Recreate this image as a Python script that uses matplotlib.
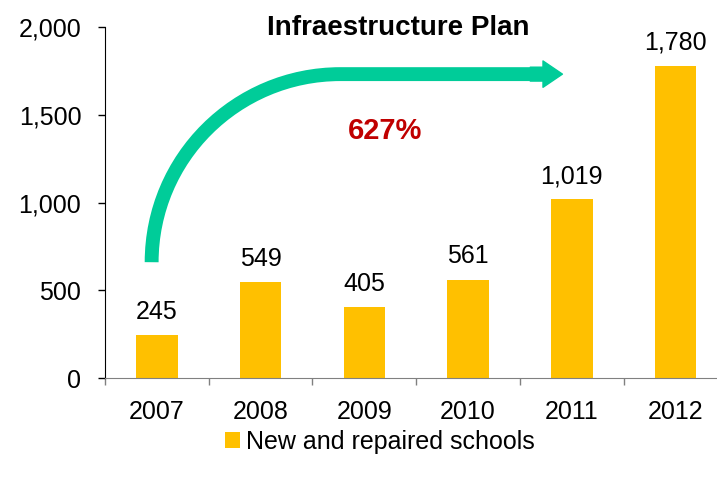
import numpy as np
import matplotlib
matplotlib.use("Agg")
import matplotlib.pyplot as plt
from matplotlib.path import Path
from matplotlib.patches import PathPatch
from matplotlib.ticker import FuncFormatter

# ─── data ─────────────────────────────────────────────
years   = ["2007", "2008", "2009", "2010", "2011", "2012"]
schools = [245, 549, 405, 561, 1019, 1780]
growth_label = "627%"
# ─────────────────────────────────────────────────────

BAR_COLOR   = "#FFC000"
ARROW_COLOR = "#00CC99"
RED         = "#C00000"
FS          = 18

plt.rcParams["font.family"] = ["Liberation Sans", "DejaVu Sans"]

fig = plt.figure(figsize=(7.17, 4.84), dpi=100)
ax = fig.add_axes([0.1464, 0.219, 0.8536, 0.725])

x = np.arange(len(years))
bars = ax.bar(x, schools, width=0.4, color=BAR_COLOR,
              label="New and repaired schools", zorder=2)

for xi, v in zip(x, schools):
    ax.annotate(f"{v:,}", (xi, v), xytext=(0, 8), textcoords="offset points",
                ha="center", va="bottom", fontsize=FS)

ax.set_xlim(-0.5, 5.4)
ax.set_ylim(0, 2000)
ax.set_yticks([0, 500, 1000, 1500, 2000])
ax.yaxis.set_major_formatter(FuncFormatter(lambda v, p: f"{int(v):,}"))
ax.set_xticks(x)
ax.set_xticklabels(years)
ax.set_xticks(np.arange(len(years)) - 0.5, minor=True)

ax.tick_params(axis="y", direction="out", length=5, width=1, pad=12,
               labelsize=FS, color="black")
ax.tick_params(axis="x", which="major", length=0, pad=16, labelsize=FS)
ax.tick_params(axis="x", which="minor", direction="out", length=5,
               width=1, color="#808080")

for s in ["top", "right"]:
    ax.spines[s].set_visible(False)
ax.spines["left"].set_color("black")
ax.spines["bottom"].set_color("#808080")

# curved growth arrow
x0, y0 = -0.05, 660
xc, yc = 1.77, 1732
k = 0.552
verts = [(x0, y0), (x0, y0 + k * (yc - y0)), (xc - k * (xc - x0), yc),
         (xc, yc), (3.7, yc)]
codes = [Path.MOVETO, Path.CURVE4, Path.CURVE4, Path.CURVE4, Path.LINETO]
ax.add_patch(PathPatch(Path(verts, codes), fill=False, lw=10,
                       edgecolor=ARROW_COLOR, capstyle="butt", zorder=3))
ax.annotate("", xy=(3.91, yc), xytext=(3.6, yc),
            arrowprops=dict(arrowstyle="simple,head_length=1.4,head_width=1.9,tail_width=1.0",
                            color=ARROW_COLOR, mutation_scale=10,
                            shrinkA=0, shrinkB=0), zorder=3)

ax.text(2.2, 1405, growth_label, color=RED, fontsize=21, fontweight="bold",
        ha="center", va="center")

fig.text(0.556, 0.943, "Infraestructure Plan", fontsize=20,
         fontweight="bold", ha="center", va="center")

fig.legend(handles=[bars], loc="center", bbox_to_anchor=(0.53, 0.087),
           frameon=False, fontsize=FS, handlelength=0.6, handleheight=0.6,
           handletextpad=0.25)

fig.savefig("out.png", dpi=100)
